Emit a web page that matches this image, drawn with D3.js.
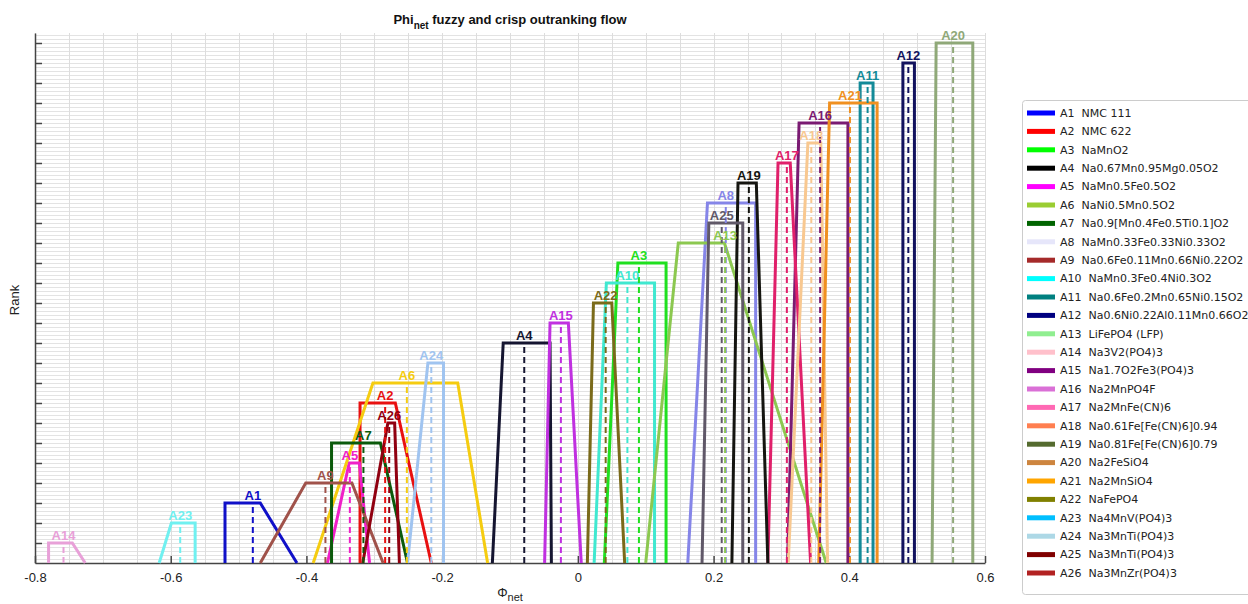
<!DOCTYPE html>
<meta charset="utf-8">
<style>
body { margin: 0; background: #fff; }
svg { font-family: "Liberation Sans", Arial, sans-serif; }
.grid line { stroke: #ddd; stroke-width: 1px; shape-rendering: crispEdges; }
.hgrid line { stroke: #e3e3e3; stroke-width: 1px; shape-rendering: crispEdges; }
.axis path, .axis line { stroke: #444; stroke-width: 1.5px; }
.axis text { font-size: 13px; fill: #222; }
.trap { fill: none; stroke-width: 3px; stroke-linejoin: miter; }
.crisp { fill: none; stroke-width: 2px; stroke-dasharray: 6,4; }
.lab { font-size: 13px; font-weight: bold; text-anchor: middle; }
.legend text { font-family: "DejaVu Sans", sans-serif; font-size: 11px; fill: #222; white-space: pre; }
</style>
<body>
<script src="https://cdn.jsdelivr.net/npm/d3@7"></script>
<script>
var width = 1248,
    height = 604;

// alternatives, in legend order
var ids = ["A1","A2","A3","A4","A5","A6","A7","A8","A9","A10","A11","A12","A13",
  "A14","A15","A16","A17","A18","A19","A20","A21","A22","A23","A24","A25","A26"];
var names = ["NMC 111","NMC 622","NaMnO2","Na0.67Mn0.95Mg0.05O2","NaMn0.5Fe0.5O2",
  "NaNi0.5Mn0.5O2","Na0.9[Mn0.4Fe0.5Ti0.1]O2","NaMn0.33Fe0.33Ni0.33O2",
  "Na0.6Fe0.11Mn0.66Ni0.22O2","NaMn0.3Fe0.4Ni0.3O2","Na0.6Fe0.2Mn0.65Ni0.15O2",
  "Na0.6Ni0.22Al0.11Mn0.66O2","LiFePO4 (LFP)","Na3V2(PO4)3","Na1.7O2Fe3(PO4)3",
  "Na2MnPO4F","Na2MnFe(CN)6","Na0.61Fe[Fe(CN)6]0.94","Na0.81Fe[Fe(CN)6]0.79",
  "Na2FeSiO4","Na2MnSiO4","NaFePO4","Na4MnV(PO4)3","Na3MnTi(PO4)3",
  "Na3MnTi(PO4)3","Na3MnZr(PO4)3"];

// fuzzy net flow (a, b, c, d), crisp net flow and rank
var fa = [-0.520,-0.321, 0.039,-0.126,-0.369,-0.390,-0.363, 0.162,-0.468, 0.024, 0.416, 0.479, 0.100,
          -0.780,-0.049, 0.309, 0.280, 0.310, 0.227, 0.522, 0.355, 0.014,-0.617,-0.251, 0.183,-0.317];
var fb = [-0.520,-0.321, 0.059,-0.110,-0.337,-0.302,-0.363, 0.191,-0.401, 0.042, 0.416, 0.479, 0.148,
          -0.780,-0.041, 0.326, 0.295, 0.339, 0.236, 0.528, 0.371, 0.023,-0.599,-0.221, 0.193,-0.280];
var fc = [-0.468,-0.269, 0.130,-0.041,-0.322,-0.177,-0.291, 0.262,-0.333, 0.113, 0.435, 0.496, 0.216,
          -0.745,-0.014, 0.398, 0.313, 0.358, 0.263, 0.582, 0.441, 0.050,-0.564,-0.198, 0.243,-0.270];
var fd = [-0.414,-0.216, 0.130,-0.039,-0.307,-0.133,-0.251, 0.262,-0.287, 0.113, 0.435, 0.496, 0.366,
          -0.726, 0.005, 0.398, 0.343, 0.368, 0.280, 0.582, 0.441, 0.069,-0.564,-0.198, 0.243,-0.263];
var crisp = [-0.479,-0.284, 0.090,-0.079,-0.336,-0.252,-0.316, 0.218,-0.372, 0.073, 0.427, 0.487, 0.217,
          -0.758,-0.025, 0.357, 0.308, 0.344, 0.252, 0.553, 0.401, 0.041,-0.586,-0.216, 0.212,-0.278];
var rank = [3, 8, 15, 11, 5, 9, 6, 18, 4, 14, 24, 25, 16,
            1, 12, 22, 20, 21, 19, 26, 23, 13, 2, 10, 17, 7];

var xTicks = [-0.8, -0.6, -0.4, -0.2, 0, 0.2, 0.4, 0.6];

// colours as drawn in the plot, and as shown in the legend
var plotColors = ["#1010c8","#e81010","#20e020","#151530","#f020c8","#f5cc10","#0b5a0b","#8585e8",
  "#a0524a","#40e8d0","#138a98","#12125e","#8cc850","#e8a0d8","#c030e0","#7a1a72","#e0206a",
  "#f8c890","#151510","#8fa878","#f09020","#7a6a1a","#70f0f0","#a0c4f0","#605868","#900010"];
var legendColors = ["#0000ff","#ff0000","#00ff00","#000000","#ff00ff","#9acd32","#006400","#e6e6fa",
  "#a52a2a","#00ffff","#008080","#000080","#90ee90","#ffc0cb","#800080","#da70d6","#ff69b4",
  "#ff7f50","#556b2f","#cd853f","#ffa500","#808000","#00bfff","#add8e6","#800000","#b22222"];

var x = d3.scaleLinear().domain([-0.8, 0.6]).range([35, 985]);
var y = d3.scaleLinear().domain([0, 26.5]).range([563, 33]);

var svg = d3.select("body").append("svg")
    .attr("width", width)
    .attr("height", height);

// dense horizontal minor grid
svg.append("g").attr("class", "hgrid")
  .selectAll("line")
  .data(d3.range(0, 26.5, 0.2))
  .enter().append("line")
    .attr("x1", x(-0.8)).attr("x2", x(0.6))
    .attr("y1", function(d) { return Math.round(y(d)) + 0.5; })
    .attr("y2", function(d) { return Math.round(y(d)) + 0.5; });

// vertical grid
svg.append("g").attr("class", "grid")
  .selectAll("line")
  .data(d3.range(-0.8, 0.6001, 0.05))
  .enter().append("line")
    .attr("x1", function(d) { return Math.round(x(d)) + 0.5; })
    .attr("x2", function(d) { return Math.round(x(d)) + 0.5; })
    .attr("y1", y(26.5)).attr("y2", y(0));

// axes (ticks pointing inward)
svg.append("g").attr("class", "axis")
    .attr("transform", "translate(0," + y(0) + ")")
    .call(d3.axisBottom(x).tickValues(xTicks).tickSizeInner(-7).tickSizeOuter(0)
      .tickPadding(10).tickFormat(function(d) { return d === 0 ? "0" : d3.format("")(+d.toFixed(1)).replace("−", "-"); }));

svg.append("g").attr("class", "axis")
    .attr("transform", "translate(" + x(-0.8) + ",0)")
    .call(d3.axisLeft(y).tickValues(d3.range(1, 27)).tickSizeInner(-7).tickSizeOuter(0).tickFormat(""));

// trapezoids
var idx = d3.range(ids.length);
var line = d3.line();

svg.append("g").selectAll("path")
  .data(idx)
  .enter().append("path")
    .attr("class", "trap")
    .attr("stroke", function(i) { return plotColors[i]; })
    .attr("d", function(i) {
      return line([[x(fa[i]), y(0)], [x(fb[i]), y(rank[i])], [x(fc[i]), y(rank[i])], [x(fd[i]), y(0)]]);
    });

// crisp values
svg.append("g").selectAll("line")
  .data(idx)
  .enter().append("line")
    .attr("class", "crisp")
    .attr("stroke", function(i) { return plotColors[i]; })
    .attr("x1", function(i) { return x(crisp[i]); })
    .attr("x2", function(i) { return x(crisp[i]); })
    .attr("y1", y(0))
    .attr("y2", function(i) { return y(rank[i]); });

svg.append("g").selectAll("text")
  .data(idx)
  .enter().append("text")
    .attr("class", "lab")
    .attr("fill", function(i) { return plotColors[i]; })
    .attr("x", function(i) { return x(crisp[i]); })
    .attr("y", function(i) { return y(rank[i]) - 3; })
    .text(function(i) { return ids[i]; });

// title and axis labels
var title = svg.append("text")
    .attr("x", 510).attr("y", 24)
    .attr("text-anchor", "middle")
    .style("font-size", "13px").style("font-weight", "bold").attr("fill", "#111");
title.append("tspan").text("Phi");
title.append("tspan").attr("dy", 5).style("font-size", "10px").text("net");
title.append("tspan").attr("dy", -5).text(" fuzzy and crisp outranking flow");

var xl = svg.append("text")
    .attr("x", 510).attr("y", 597)
    .attr("text-anchor", "middle")
    .style("font-size", "13px").attr("fill", "#222");
xl.append("tspan").text("\u03A6");
xl.append("tspan").attr("dy", 4).style("font-size", "11px").text("net");

svg.append("text")
    .attr("transform", "translate(19,300) rotate(-90)")
    .attr("text-anchor", "middle")
    .style("font-size", "13px").attr("fill", "#222")
    .text("Rank");

// legend
var legend = svg.append("g").attr("class", "legend");
legend.append("rect")
    .attr("x", 1022.5).attr("y", 100.5)
    .attr("width", 240).attr("height", 494)
    .attr("rx", 3)
    .attr("fill", "#fff").attr("stroke", "#ccc");

var item = legend.selectAll("g.item")
  .data(idx)
  .enter().append("g")
    .attr("class", "item")
    .attr("transform", function(i) { return "translate(0," + (113 + i * 18.4) + ")"; });
item.append("line")
    .attr("x1", 1027).attr("x2", 1055)
    .attr("stroke-width", 5)
    .attr("stroke", function(i) { return legendColors[i]; });
item.append("text")
    .attr("x", 1060).attr("dy", "0.35em")
    .text(function(i) { return ids[i] + "  " + names[i]; });
</script>
</body>
